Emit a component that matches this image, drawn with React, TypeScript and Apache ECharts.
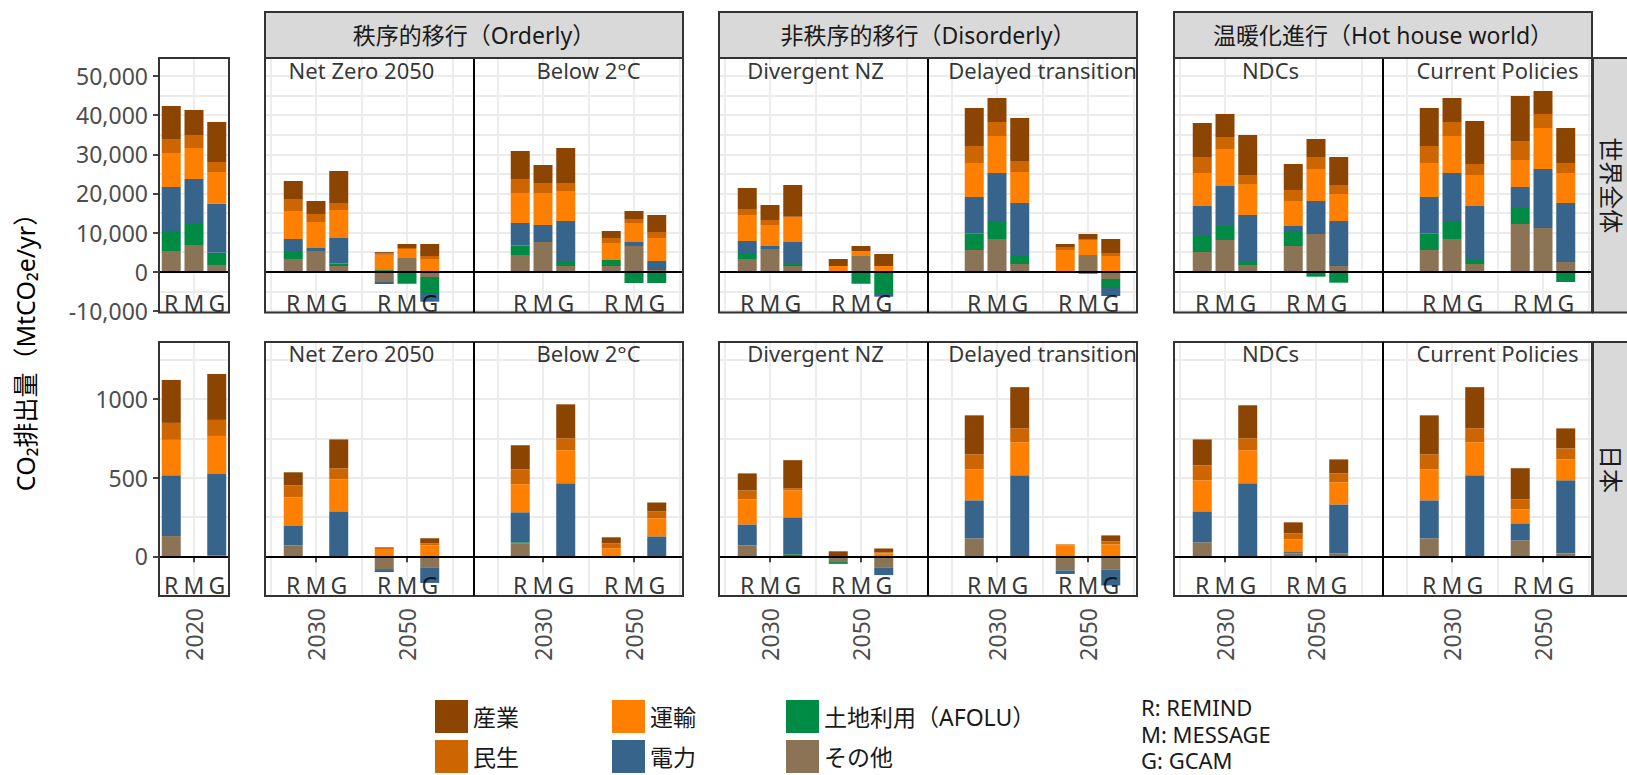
import React, { useEffect, useRef } from 'react';
import * as echarts from 'echarts';

const FONT = "'Noto Sans', 'Noto Sans CJK JP', sans-serif";

// Sectors in legend order; each bar below is [産業, 民生, 運輸, 電力, 土地利用, その他]
const SECTORS = ['産業', '民生', '運輸', '電力', '土地利用（AFOLU）', 'その他'];
const COLORS = ['#8B4500', '#CD6600', '#FF7F00', '#36648B', '#008B45', '#8B7355'];
const MODELS = ['R', 'M', 'G'];
const YEARS = [2030, 2050];
const BASE_YEAR = 2020;
const GROUPS = ['秩序的移行（Orderly）', '非秩序的移行（Disorderly）', '温暖化進行（Hot house world）'];
const SCENARIOS = ['Net Zero 2050', 'Below 2°C', 'Divergent NZ', 'Delayed transition', 'NDCs', 'Current Policies'];
const REGIONS = ['世界全体', '日本'];
const WORLD_TICKS = [-10000, 50000, 10000]; // min, max, step of labelled ticks
const JAPAN_TICKS = [0, 1000, 500];
const MODEL_NOTE = ['R: REMIND', 'M: MESSAGE', 'G: GCAM'];

// World, MtCO2e/yr. 2020: R, M, G
const W_2020 = [
  [8435, 3578, 8690, 11246, 5112, 5282],
  [6390, 3323, 7924, 11246, 5623, 6816],
  [10224, 2556, 8094, 12524, 3152, 1704],
];
// Scenario bars: R2030, M2030, G2030, R2050, M2050, G2050
const W_NZ = [
  [4601, 3067, 7157, 3067, 2045, 3238],
  [3323, 2045, 6646, 767, 0, 5282],
  [8179, 1789, 7157, 6560, 596, 1448],
  [256, 426, 3919, -511, 400, -2641],
  [1022, 256, 2300, -170, -2982, 3493],
  [3067, 767, 3238, -1960, -4345, -1363],
];
const W_B2C = [
  [7157, 3578, 7668, 5794, 2386, 4260],
  [4601, 2556, 8179, 4345, 0, 7583],
  [8946, 2045, 7668, 10480, 1022, 1448],
  [1789, 1278, 4345, 0, 1534, 1448],
  [2045, 1022, 4856, 1022, -2897, 6560],
  [4345, 1534, 5879, 2300, -2897, 426],
];
const W_DNZ = [
  [5368, 1534, 6646, 3067, 1534, 3238],
  [3834, 1278, 5368, 767, 0, 5794],
  [8094, 256, 6220, 5623, 511, 1448],
  [1789, 0, 1448, 0, 0, 0],
  [1278, 0, 1278, -170, -2982, 4004],
  [3067, 0, 1448, -682, -5708, 0],
];
const W_DT = [
  [9713, 4345, 8690, 9372, 4175, 5538],
  [6134, 3578, 9457, 12269, 4601, 8350],
  [10991, 2812, 7924, 13547, 2045, 1960],
  [767, 767, 5538, 0, 0, 0],
  [1278, 256, 3834, -150, -400, 4260],
  [3578, 767, 4004, -2045, -2300, -1874],
];
const W_NDC = [
  [8690, 4090, 8435, 7668, 4090, 5027],
  [5879, 3067, 9457, 10224, 3578, 8094],
  [10224, 2300, 7924, 11758, 1022, 1704],
  [6646, 2812, 6390, 1278, 3834, 6560],
  [4601, 3067, 8179, 8435, -1278, 9628],
  [7157, 2300, 6901, 11502, -2812, 1448],
];
const W_CP = [
  [9713, 4345, 8690, 9372, 4175, 5538],
  [6134, 3578, 9457, 12269, 4601, 8350],
  [10991, 2812, 7924, 13547, 1278, 1960],
  [11502, 4856, 6901, 5368, 4090, 12184],
  [5879, 3578, 10480, 14825, 256, 11161],
  [8946, 2556, 7668, 15080, -2641, 2471],
];

// Japan (MESSAGE has no Japan data)
const J_2020 = [
  [273, 108, 225, 386, 0, 129],
  null,
  [292, 102, 242, 515, 0, 8],
];
const J_NZ = [
  [83, 76, 178, 127, 0, 70], null, [184, 70, 203, 286, 0, 0],
  [4, 6, 47, -13, -6, -81], null, [32, 13, 70, -97, -4, -68],
];
const J_B2C = [
  [153, 95, 178, 191, 6, 83], null, [216, 76, 210, 464, 0, 0],
  [38, 32, 51, 0, 0, 0], null, [57, 44, 114, 127, 0, 0],
];
const J_DNZ = [
  [108, 57, 159, 133, 0, 70], null, [178, 13, 172, 235, 13, 0],
  [32, 0, 0, -6, -6, -36], null, [25, 6, 19, -49, 0, -70],
];
const J_DT = [
  [248, 95, 197, 242, 0, 114], null, [261, 89, 210, 515, 0, 0],
  [0, 6, 70, -23, 0, -89], null, [38, 19, 76, -102, 0, -83],
];
const J_NDC = [
  [165, 95, 197, 197, 0, 89], null, [210, 76, 210, 464, 0, 0],
  [70, 38, 81, 8, 0, 19], null, [89, 57, 140, 311, 0, 19],
];
const J_CP = [
  [248, 95, 197, 242, 0, 114], null, [261, 89, 210, 515, 0, 0],
  [197, 64, 89, 108, 0, 102], null, [127, 70, 133, 464, 0, 19],
];

const ROW_BASE = [W_2020, J_2020];
const ROW_PANELS = [
  [W_NZ, W_B2C, W_DNZ, W_DT, W_NDC, W_CP],
  [J_NZ, J_B2C, J_DNZ, J_DT, J_NDC, J_CP],
];

// ---- layout (pixels) ----
const PX = 4.55; // px per year
const MODEL_OFF = 5; // years between dodged bars
const ROWS = [
  { top: 58, bottom: 312.5, min: -10430, max: 54610, grid: 5000, ticks: WORLD_TICKS, titleY: 51500, rmgY: -8000 },
  { top: 342, bottom: 596, min: -252, max: 1362, grid: 250, ticks: JAPAN_TICKS, titleY: 1290, rmgY: -180 },
];
const P2020 = { left: 159, width: 70 };
const GROUP_LEFTS = [265, 719, 1174];
const SUB_W = 209;
const TICK_OFF = [51, 69];
const STRIP_TOP = 12;
const RSTRIP_LEFT = 1593;

function buildOption() {
  const grid: any[] = [];
  const xAxis: any[] = [];
  const yAxis: any[] = [];
  const series: any[] = [];
  const graphic: any[] = [];

  const add = (g: any, x: any, y: any) => {
    const i = grid.length;
    grid.push({ ...g, containLabel: false });
    xAxis.push({ ...x, gridIndex: i });
    yAxis.push({ ...y, gridIndex: i });
    return i;
  };

  const hiddenAxis = { axisLine: { show: false }, axisTick: { show: false }, axisLabel: { show: false } };

  ROWS.forEach((row, r) => {
    const height = row.bottom - row.top;
    const yPix = (v: number) => row.top + ((row.max - v) / (row.max - row.min)) * height;

    type Panel = { left: number; width: number; xmin: number; xmax: number; cats: string[]; slots: any[]; title: string | null; rmgX: number[] };
    const panels: Panel[] = [];
    {
      const half = P2020.width / 2 / PX;
      const base = ROW_BASE[r];
      panels.push({
        left: P2020.left, width: P2020.width, xmin: BASE_YEAR - half, xmax: BASE_YEAR + half,
        cats: MODELS.map((_, m) => String(BASE_YEAR + (m - 1) * MODEL_OFF)),
        slots: base, title: null,
        rmgX: MODELS.map((_, m) => BASE_YEAR + (m - 1) * MODEL_OFF),
      });
    }
    ROW_PANELS[r].forEach((bars, k) => {
      const g = Math.floor(k / 2), side = k % 2;
      const left = GROUP_LEFTS[g] + side * SUB_W;
      const xmin = YEARS[0] - TICK_OFF[side] / PX;
      const cats: string[] = [];
      for (let y = YEARS[0] - MODEL_OFF; y <= YEARS[1] + MODEL_OFF; y += MODEL_OFF) cats.push(String(y));
      const slots = [bars[0], bars[1], bars[2], null, bars[3], bars[4], bars[5]];
      const rmgX: number[] = [];
      YEARS.forEach((yr) => MODELS.forEach((_, m) => rmgX.push(yr + (m - 1) * MODEL_OFF)));
      panels.push({ left, width: SUB_W, xmin, xmax: xmin + SUB_W / PX, cats, slots, title: SCENARIOS[k], rmgX });
    });

    panels.forEach((p) => {
      // gridline / annotation grid (full panel)
      const gi = add(
        { left: p.left, top: row.top, width: p.width, height },
        {
          type: 'value', min: p.xmin, max: p.xmax, minInterval: 10, maxInterval: 10, ...hiddenAxis,
          splitLine: { show: true, showMinLine: false, showMaxLine: false, lineStyle: { color: '#ebebeb', width: 1.8 } },
        },
        {
          type: 'value', min: row.min, max: row.max, minInterval: row.grid, maxInterval: row.grid, ...hiddenAxis,
          splitLine: { show: true, showMinLine: false, showMaxLine: false, lineStyle: { color: '#ebebeb', width: 1.8 } },
        }
      );
      const titleData = p.title ? [{ name: p.title, value: [(YEARS[0] + YEARS[1]) / 2, row.titleY] }] : [];
      series.push({
        type: 'scatter', xAxisIndex: gi, yAxisIndex: gi, symbolSize: 1, silent: true,
        itemStyle: { color: 'rgba(0,0,0,0)' },
        label: { show: true, position: 'inside', formatter: '{b}', color: '#000', fontSize: 22, fontFamily: FONT, textBorderWidth: 0 },
        data: titleData,
        markLine: {
          silent: true, symbol: 'none', label: { show: false },
          lineStyle: { color: '#000', width: 2.2, type: 'solid' },
          data: [{ yAxis: 0 }],
        },
      });
      series.push({
        type: 'scatter', xAxisIndex: gi, yAxisIndex: gi, symbolSize: 1, silent: true,
        itemStyle: { color: 'rgba(0,0,0,0)' },
        label: { show: true, position: 'inside', formatter: '{b}', color: '#000', fontSize: 23, fontFamily: FONT, textBorderWidth: 0 },
        data: p.rmgX.map((x, i) => ({ name: MODELS[i % 3], value: [x, row.rmgY] })),
      });

      // bar grid (category slots, 5 years apart)
      const n = p.cats.length;
      const slotW = MODEL_OFF * PX;
      const firstCenter = p.left + (Number(p.cats[0]) - p.xmin) * PX;
      const showX = r === ROWS.length - 1;
      const labelFilter = (_: number, v: string) => v === String(BASE_YEAR) || YEARS.map(String).includes(v);
      const bi = add(
        { left: firstCenter - slotW / 2, top: row.top, width: slotW * n, height },
        {
          type: 'category', data: p.cats, boundaryGap: true,
          axisLine: { show: false },
          axisTick: { show: showX, alignWithLabel: true, interval: labelFilter, length: 6, lineStyle: { color: '#333', width: 1.8 } },
          axisLabel: {
            show: showX, interval: labelFilter, rotate: 90, margin: 12, verticalAlign: 'middle', padding: [16, 0, 0, 0],
            fontSize: 23, color: '#4d4d4d', fontFamily: FONT,
          },
          splitLine: { show: false },
        },
        { type: 'value', min: row.min, max: row.max, show: false }
      );
      [5, 4, 3, 2, 1, 0].forEach((s) => {
        series.push({
          type: 'bar', name: SECTORS[s], xAxisIndex: bi, yAxisIndex: bi, stack: 'stk' + bi,
          barWidth: 19, silent: true, itemStyle: { color: COLORS[s] },
          data: p.slots.map((b: any) => (b ? b[s] : '-')),
        });
      });
    });

    // y tick labels (left of 2020 panel)
    const [tmin, tmax, tstep] = row.ticks;
    add(
      { left: P2020.left, width: P2020.width, top: yPix(tmax), height: yPix(tmin) - yPix(tmax) },
      { type: 'value', min: 0, max: 1, show: false },
      {
        type: 'value', min: tmin, max: tmax, interval: tstep,
        axisLine: { show: false },
        axisTick: { show: true, length: 6, lineStyle: { color: '#333', width: 1.8 } },
        axisLabel: {
          show: true, margin: 11, fontSize: 23, color: '#4d4d4d', fontFamily: FONT,
          formatter: (v: number) => (r === 0 ? v.toLocaleString('en-US') : String(v)),
        },
        splitLine: { show: false },
      }
    );

    // panel borders
    graphic.push({
      type: 'rect', z: 100, shape: { x: P2020.left, y: row.top, width: P2020.width, height },
      style: { fill: 'none', stroke: '#333333', lineWidth: 2 },
    });
    GROUP_LEFTS.forEach((gl) => {
      graphic.push({
        type: 'rect', z: 100, shape: { x: gl, y: row.top, width: SUB_W * 2, height },
        style: { fill: 'none', stroke: '#333333', lineWidth: 2 },
      });
      graphic.push({
        type: 'line', z: 100, shape: { x1: gl + SUB_W, y1: row.top, x2: gl + SUB_W, y2: row.bottom },
        style: { stroke: '#000', lineWidth: 2 },
      });
    });
    // right strip
    graphic.push({
      type: 'rect', z: 100, shape: { x: RSTRIP_LEFT, y: row.top, width: 60, height },
      style: { fill: '#d9d9d9', stroke: '#333333', lineWidth: 2 },
    });
    graphic.push({
      type: 'text', z: 101, x: RSTRIP_LEFT + 18, y: (row.top + row.bottom) / 2, rotation: -Math.PI / 2,
      style: { text: REGIONS[r], fontSize: 24, fill: '#1a1a1a', fontFamily: FONT, align: 'center', verticalAlign: 'middle' },
    });
  });

  // top strips
  GROUPS.forEach((label, g) => {
    const gl = GROUP_LEFTS[g];
    graphic.push({
      type: 'rect', z: 100, shape: { x: gl, y: STRIP_TOP, width: SUB_W * 2, height: ROWS[0].top - STRIP_TOP },
      style: { fill: '#d9d9d9', stroke: '#333333', lineWidth: 2 },
    });
    graphic.push({
      type: 'text', z: 101, x: gl + SUB_W, y: (STRIP_TOP + ROWS[0].top) / 2,
      style: { text: label, fontSize: 23, fill: '#1a1a1a', fontFamily: FONT, align: 'center', verticalAlign: 'middle' },
    });
  });

  // y-axis title
  graphic.push({
    type: 'text', z: 101, x: 25, y: 346, rotation: Math.PI / 2,
    style: { text: 'CO₂排出量（MtCO₂e/yr）', fontSize: 25, fill: '#000', fontFamily: FONT, align: 'center', verticalAlign: 'middle' },
  });

  // model note (one multi-line text block)
  graphic.push({
    type: 'text', z: 101, x: 1141, y: 694,
    style: {
      text: MODEL_NOTE.join('\n'), fontSize: 22, lineHeight: 26.5, fill: '#1a1a1a', fontFamily: FONT,
      align: 'left', verticalAlign: 'top',
    },
  });

  const legendBase = {
    orient: 'vertical', top: 700, itemWidth: 33, itemHeight: 33, itemGap: 7, icon: 'rect', padding: 0,
    selectedMode: false, textStyle: { fontSize: 23, color: '#1a1a1a', fontFamily: FONT },
  };
  const legend = [
    { ...legendBase, left: 435, data: [SECTORS[0], SECTORS[1]] },
    { ...legendBase, left: 612, data: [SECTORS[2], SECTORS[3]] },
    { ...legendBase, left: 786, data: [SECTORS[4], SECTORS[5]] },
  ];

  return {
    animation: false,
    backgroundColor: '#ffffff',
    textStyle: { fontFamily: FONT },
    grid, xAxis, yAxis, series, graphic, legend,
  };
}

export default function App() {
  const ref = useRef<HTMLDivElement>(null);
  useEffect(() => {
    if (!ref.current) return;
    const chart = echarts.init(ref.current, null, { renderer: 'svg' });
    chart.setOption(buildOption() as any);
    return () => chart.dispose();
  }, []);
  return <div ref={ref} style={{ position: 'absolute', left: 0, top: 0, width: 1627, height: 775 }} />;
}
